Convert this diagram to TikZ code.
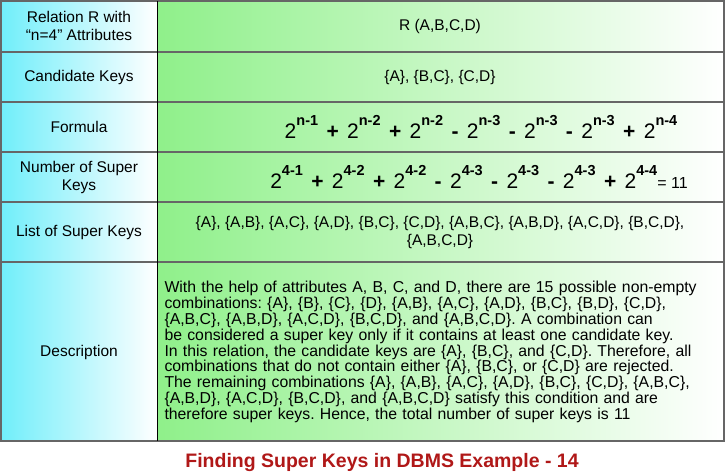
\documentclass[tikz,border=0pt]{standalone}
\usepackage{fontspec}
\setmainfont{Liberation Sans}
\newfontfamily\descfont[HyphenChar=None]{Liberation Sans}
\frenchspacing
\begin{document}
\begin{tikzpicture}[x=1pt,y=-1pt,
 lab/.style={align=center,font=\fontsize{15.5}{18}\selectfont},
 val/.style={align=center,font=\fontsize{15.5}{18}\selectfont},
 frm/.style={font=\fontsize{21}{22}\selectfont}]
\useasboundingbox (0,0) rectangle (726,473);
\definecolor{cy}{HTML}{70EEFA}
\definecolor{gr}{HTML}{8FF08A}
\definecolor{cap}{HTML}{B01818}
\shade[left color=cy,right color=white] (1,1) rectangle (157,441);
\shade[left color=gr,right color=white] (157,1) rectangle (724,441);
\foreach \y in {52,102,152,202,262} \draw[gray!80!black,line width=1.2pt] (1,\y) -- (724,\y);
\draw[gray!80!black,line width=1.5pt] (1,1) rectangle (724,441);
\draw[black,line width=1pt] (157,1) -- (157,441);
\node[lab] (l1) at (79,26) {Relation R with\\“n=4” Attributes};
\node[lab] (l2) at (79,77) {Candidate Keys};
\node[lab] (l3) at (79,127) {Formula};
\node[lab] (l4) at (79,177) {Number of Super\\Keys};
\node[lab] (l5) at (79,232) {List of Super Keys};
\node[lab] (l6) at (79,352) {Description};
\node[val] (v1) at (440,26) {R (A,B,C,D)};
\node[val] (v2) at (440,77) {\{A\}, \{B,C\}, \{C,D\}};
\newcommand{\pw}[1]{2\raisebox{0.6em}{\fontsize{14.5}{15}\selectfont\bfseries #1}}
\newcommand{\op}[1]{\hspace{0.4em}\textbf{#1}\hspace{0.4em}}
\node[frm] (v3) at (481,127) {\pw{n-1}\op{+}\pw{n-2}\op{+}\pw{n-2}\op{-}\pw{n-3}\op{-}\pw{n-3}\op{-}\pw{n-3}\op{+}\pw{n-4}};
\node[frm] (v4) at (479,177) {\pw{4-1}\op{+}\pw{4-2}\op{+}\pw{4-2}\op{-}\pw{4-3}\op{-}\pw{4-3}\op{-}\pw{4-3}\op{+}\pw{4-4}\fontsize{16}{18}\selectfont= 11};
\node[val] (v5) at (440,232) {\{A\}, \{A,B\}, \{A,C\}, \{A,D\}, \{B,C\}, \{C,D\}, \{A,B,C\}, \{A,B,D\}, \{A,C,D\}, \{B,C,D\},\\\{A,B,C,D\}};
\node[align=left,text width=553pt,inner sep=0pt,font=\descfont\fontsize{15.8}{15.9}\selectfont] (v6) at (441,352) {With the help of attributes A, B, C, and D, there are 15 possible non-empty combinations: \{A\}, \{B\}, \{C\}, \{D\}, \{A,B\}, \{A,C\}, \{A,D\}, \{B,C\}, \{B,D\}, \{C,D\}, \{A,B,C\}, \{A,B,D\}, \{A,C,D\}, \{B,C,D\}, and \{A,B,C,D\}. A combination can be considered a super key only if it contains at least one candidate key. In~this relation, the candidate keys are \{A\}, \{B,C\}, and \{C,D\}. Therefore, all combinations that do not contain either \{A\}, \{B,C\}, or \{C,D\} are rejected. The remaining combinations \{A\}, \{A,B\}, \{A,C\}, \{A,D\}, \{B,C\}, \{C,D\}, \{A,B,C\}, \{A,B,D\}, \{A,C,D\}, \{B,C,D\}, and \{A,B,C,D\} satisfy this condition and are therefore super keys. Hence, the total number of super keys is 11};
\node[font=\fontsize{19.5}{22}\selectfont\bfseries,text=cap] (c) at (382,462) {Finding Super Keys in DBMS Example - 14};
\end{tikzpicture}
\end{document}
